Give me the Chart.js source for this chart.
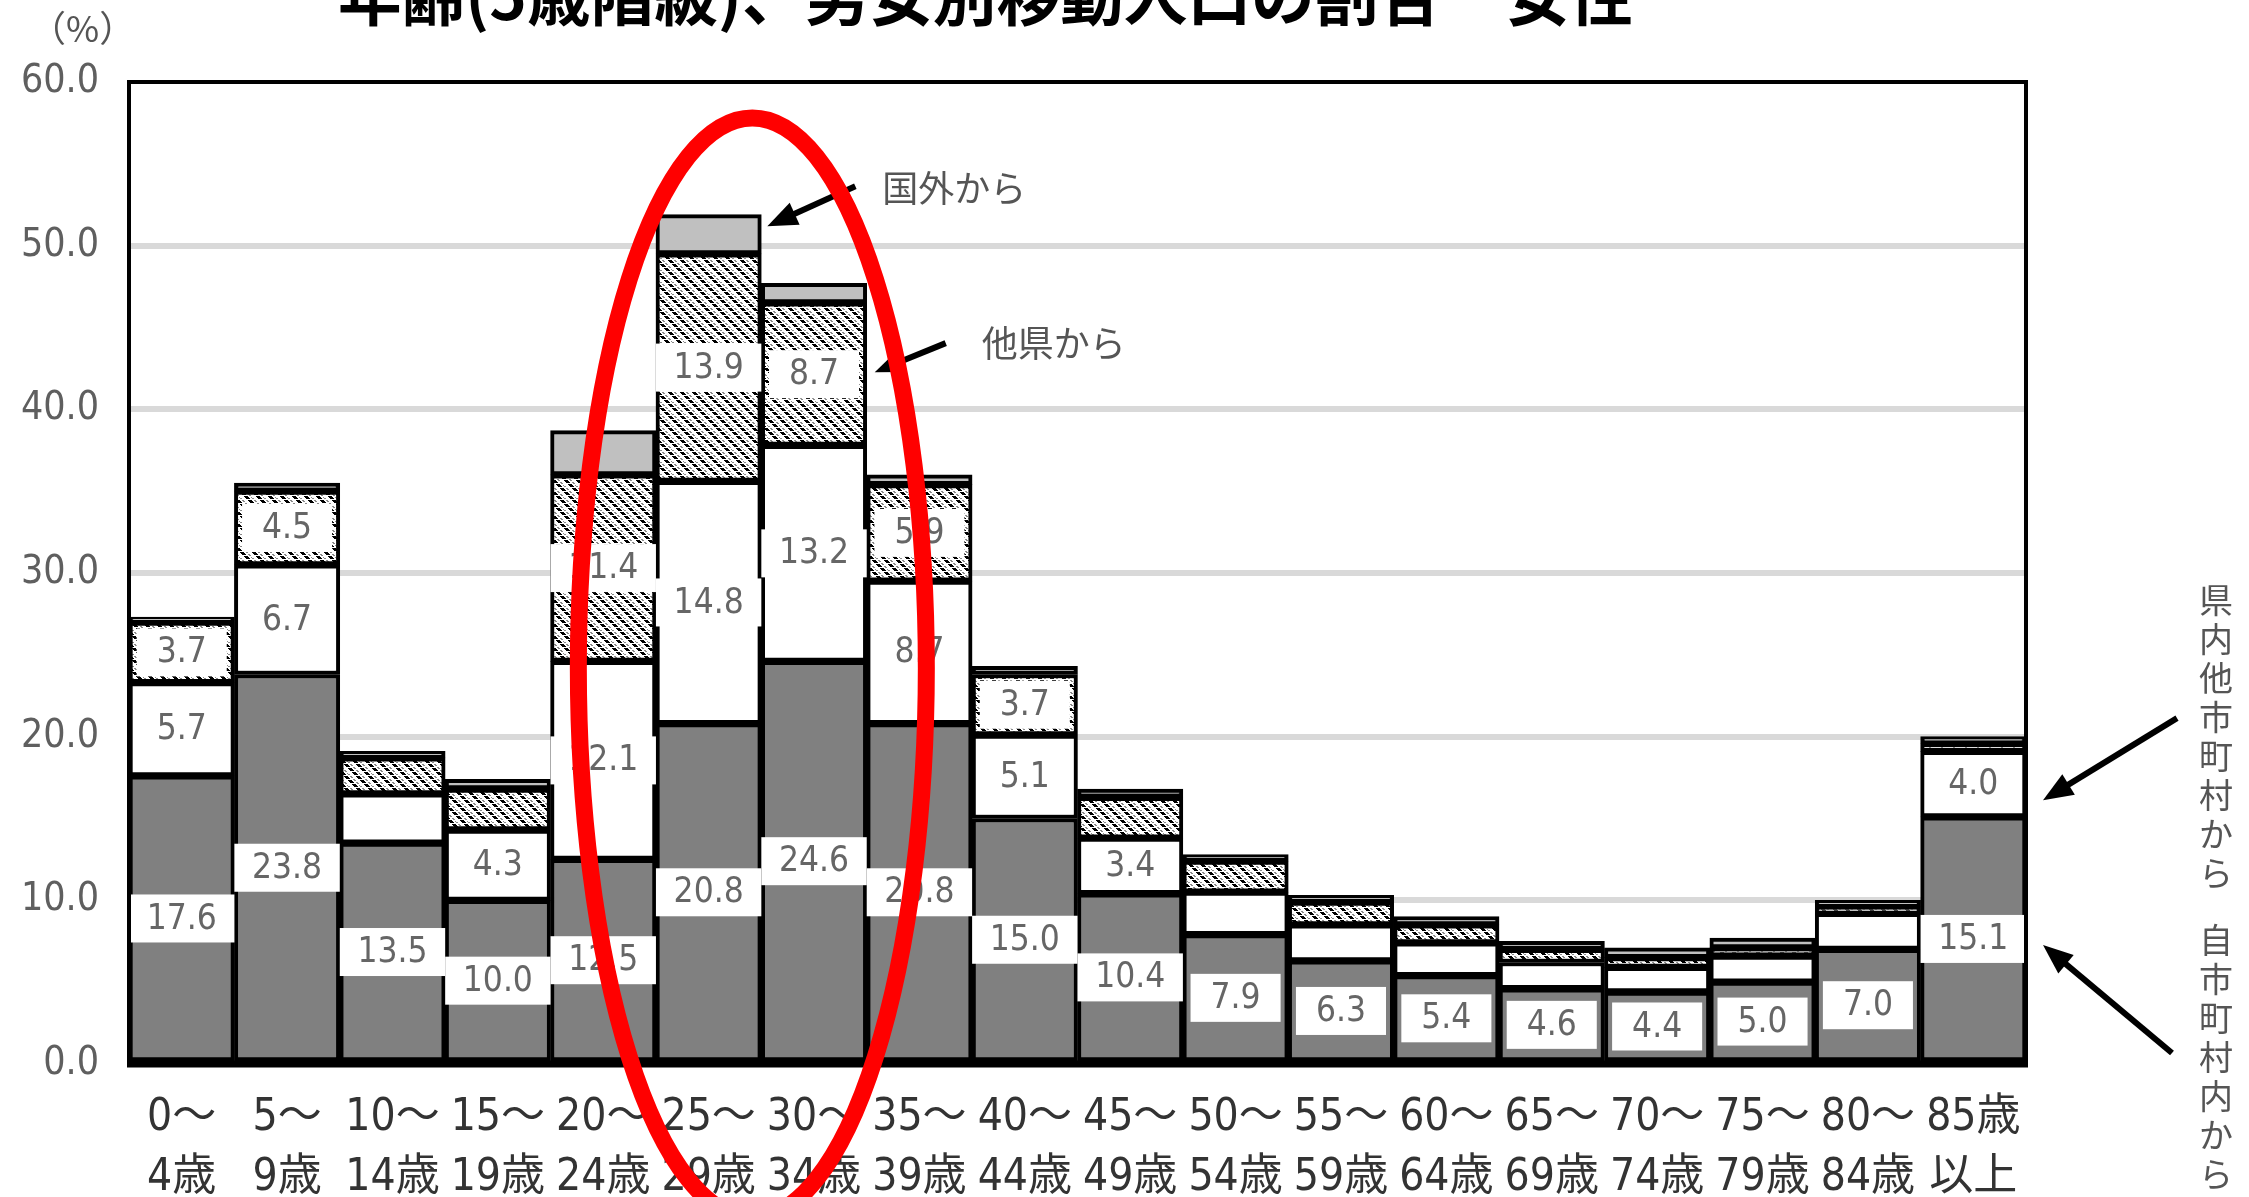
<!DOCTYPE html>
<html>
<head>
<meta charset="utf-8">
<title>年齢(5歳階級)、男女別移動人口の割合 女性</title>
<script src="https://cdn.jsdelivr.net/npm/chart.js@4.4.1/dist/chart.umd.min.js"></script>
<style>
    html, body { margin: 0; padding: 0; background: #fff; overflow: hidden; }
    #wrap { width: 2249px; height: 1197px; position: relative; }
</style>
</head>
<body>
<div id="wrap"><canvas id="myChart" width="2249" height="1197"></canvas></div>
<script>
// tranches d'âge (2 lignes par étiquette)
const ageLabels = [
    ['0～', '4歳'], ['5～', '9歳'], ['10～', '14歳'], ['15～', '19歳'], ['20～', '24歳'],
    ['25～', '29歳'], ['30～', '34歳'], ['35～', '39歳'], ['40～', '44歳'], ['45～', '49歳'],
    ['50～', '54歳'], ['55～', '59歳'], ['60～', '64歳'], ['65～', '69歳'], ['70～', '74歳'],
    ['75～', '79歳'], ['80～', '84歳'], ['85歳', '以上']
];
// séries (%)
const fromOwnCity   = [17.6, 23.8, 13.5, 10.0, 12.5, 20.8, 24.6, 20.8, 15.0, 10.4, 7.9, 6.3, 5.4, 4.6, 4.4, 5.0, 7.0, 15.1];
const fromOtherCity = [5.7, 6.7, 3.0, 4.3, 12.1, 14.8, 13.2, 8.7, 5.1, 3.4, 2.6, 2.2, 2.0, 1.6, 1.5, 1.6, 2.2, 4.0];
const fromOtherPref = [3.7, 4.5, 2.2, 2.5, 11.4, 13.9, 8.7, 5.9, 3.7, 2.5, 1.9, 1.4, 1.1, 0.8, 0.6, 0.5, 0.4, 0.5];
const fromAbroad    = [0.3, 0.5, 0.4, 0.6, 2.7, 2.4, 1.2, 0.6, 0.5, 0.5, 0.4, 0.4, 0.5, 0.5, 0.6, 0.6, 0.4, 0.4];
const yTicks = [0, 10, 20, 30, 40, 50, 60];

const titleText = '年齢(5歳階級)、男女別移動人口の割合　女性';
const NARROW = "'Liberation Sans Narrow', 'DejaVu Sans Condensed', 'Noto Sans CJK JP', sans-serif";
const CJK = "'Noto Sans CJK JP', sans-serif";

// motif hachuré pour "他県から"
function makeHatch() {
    const n = 12;
    const c = document.createElement('canvas');
    c.width = n; c.height = n;
    const g = c.getContext('2d');
    g.fillStyle = '#fff';
    g.fillRect(0, 0, n, n);
    g.fillStyle = '#000';
    for (let k = 0; k < n; k++) {
        if (k % 4 === 3) continue;
        g.fillRect(k, k, 4, 1);
        if (k + 4 > n) g.fillRect(k - n, k, 4, 1);
    }
    g.fillStyle = '#8a8a8a';
    for (let k = 0; k < n; k++) {
        if (k % 3 === 1) continue;
        g.fillRect((k + 6) % n, k, 2, 1);
    }
    return g.createPattern(c, 'repeat');
}

function drawArrow(ctx, x1, y1, x2, y2) {
    const a = Math.atan2(y2 - y1, x2 - x1);
    const hl = 30, hw = 12;
    const c = Math.cos(a), s = Math.sin(a);
    ctx.save();
    ctx.strokeStyle = '#000';
    ctx.fillStyle = '#000';
    ctx.lineWidth = 6;
    ctx.beginPath();
    ctx.moveTo(x1, y1);
    ctx.lineTo(x2 - c * hl * 0.8, y2 - s * hl * 0.8);
    ctx.stroke();
    ctx.beginPath();
    ctx.moveTo(x2, y2);
    ctx.lineTo(x2 - hl * c + hw * s, y2 - hl * s - hw * c);
    ctx.lineTo(x2 - hl * c - hw * s, y2 - hl * s + hw * c);
    ctx.closePath();
    ctx.fill();
    ctx.restore();
}

function verticalText(ctx, text, x, y0, step) {
    for (let i = 0; i < text.length; i++) {
        ctx.fillText(text[i], x, y0 + i * step);
    }
}

// cadre, étiquettes de valeurs, annotations
const decorPlugin = {
    id: 'decor',
    afterDatasetsDraw(chart) {
        const ctx = chart.ctx;
        const area = chart.chartArea;
        ctx.save();
        // étiquettes dans les segments
        ctx.font = '35px ' + NARROW;
        ctx.textAlign = 'center';
        ctx.textBaseline = 'middle';
        chart.data.datasets.forEach((ds, di) => {
            if (di === 3) return;
            chart.getDatasetMeta(di).data.forEach((bar, i) => {
                const v = ds.data[i];
                if (v < 3.2) return;
                const txt = v.toFixed(1);
                const cy = (bar.y + bar.base) / 2;
                const tw = ctx.measureText(txt).width;
                const bw = Math.min(bar.width, tw + 40);
                ctx.fillStyle = '#fff';
                ctx.fillRect(bar.x - bw / 2, cy - 24, bw, 48);
                ctx.fillStyle = '#666';
                ctx.fillText(txt, bar.x, cy + 1);
            });
        });
        // cadre
        ctx.strokeStyle = '#000';
        ctx.lineWidth = 4;
        ctx.strokeRect(area.left, area.top, area.right - area.left, area.bottom - area.top);
        ctx.lineWidth = 7;
        ctx.beginPath();
        ctx.moveTo(area.left - 2, area.bottom);
        ctx.lineTo(area.right + 2, area.bottom);
        ctx.stroke();
        ctx.restore();
    },
    afterDraw(chart) {
        const ctx = chart.ctx;
        const pref = chart.getDatasetMeta(2).data;
        const abr = chart.getDatasetMeta(3).data;
        const other = chart.getDatasetMeta(1).data;
        const own = chart.getDatasetMeta(0).data;
        ctx.save();

        // titre (coupé en haut)
        ctx.font = 'bold 64px ' + CJK;
        ctx.fillStyle = '#000';
        ctx.textAlign = 'left';
        ctx.textBaseline = 'alphabetic';
        ctx.fillText(titleText, 338, 20, 1295);

        // (%)
        ctx.font = '36px ' + CJK;
        ctx.fillStyle = '#555';
        ctx.textBaseline = 'middle';
        ctx.fillText('（%）', 30, 28);

        // 国外から
        const b1 = abr[5];
        const h1x = b1.x + b1.width / 2 + 6, h1y = (b1.y + b1.base) / 2 - 8;
        drawArrow(ctx, h1x + 88, h1y - 40, h1x, h1y);
        ctx.fillStyle = '#555';
        ctx.font = '36px ' + CJK;
        ctx.fillText('国外から', h1x + 115, h1y - 38);

        // 他県から
        const b2 = pref[6];
        const h2x = b2.x + b2.width / 2 + 8, h2y = (b2.y + b2.base) / 2 - 2;
        drawArrow(ctx, h2x + 71, h2y - 29, h2x, h2y);
        ctx.fillStyle = '#555';
        ctx.fillText('他県から', h2x + 107, h2y - 29);

        // flèches et textes verticaux à droite
        const b3 = other[17];
        const h3x = b3.x + b3.width / 2 + 17, h3y = (b3.y + b3.base) / 2 + 16;
        drawArrow(ctx, h3x + 134, h3y - 82, h3x, h3y);
        const b4 = own[17];
        const h4x = b4.x + b4.width / 2 + 17, h4y = (b4.y + b4.base) / 2 + 6;
        drawArrow(ctx, h4x + 129, h4y + 108, h4x, h4y);
        ctx.fillStyle = '#555';
        ctx.font = '34px ' + CJK;
        ctx.textAlign = 'center';
        verticalText(ctx, '県内他市町村から', 2216, 600, 39);
        verticalText(ctx, '自市町村内から', 2216, 940, 39);

        // ellipse rouge
        const cx = (own[5].x + own[6].x) / 2 - 9;
        const cy = chart.scales.y.getPixelForValue(24.2);
        ctx.strokeStyle = '#ff0000';
        ctx.lineWidth = 17;
        ctx.beginPath();
        ctx.ellipse(cx, cy, 174, 550, 0, 0, Math.PI * 2);
        ctx.stroke();
        ctx.restore();
    }
};

const ctx = document.getElementById('myChart').getContext('2d');
const hatch = makeHatch();
const common = {
    borderColor: '#000',
    borderWidth: 4,
    borderSkipped: false,
    barPercentage: 1.0,
    categoryPercentage: 1.0
};

new Chart(ctx, {
    type: 'bar',
    data: {
        labels: ageLabels,
        datasets: [
            Object.assign({ label: '自市町村内から', data: fromOwnCity, backgroundColor: '#808080' }, common),
            Object.assign({ label: '県内他市町村から', data: fromOtherCity, backgroundColor: '#ffffff' }, common),
            Object.assign({ label: '他県から', data: fromOtherPref, backgroundColor: hatch }, common),
            Object.assign({ label: '国外から', data: fromAbroad, backgroundColor: '#c0c0c0' }, common)
        ]
    },
    options: {
        responsive: false,
        animation: false,
        devicePixelRatio: 1,
        layout: { padding: { left: 0, top: 82, right: 223, bottom: 0 } },
        plugins: {
            legend: { display: false },
            tooltip: { enabled: false },
            title: { display: false }
        },
        scales: {
            x: {
                stacked: true,
                grid: { display: false, drawTicks: false },
                border: { display: false },
                ticks: {
                    autoSkip: false,
                    maxRotation: 0,
                    minRotation: 0,
                    padding: 25,
                    color: '#333',
                    font: { family: NARROW, size: 44, lineHeight: 1.36 }
                },
                afterFit(scale) { scale.height = 133; }
            },
            y: {
                stacked: true,
                min: 0,
                max: 60,
                afterBuildTicks(scale) { scale.ticks = yTicks.map(v => ({ value: v })); },
                grid: {
                    drawTicks: false,
                    lineWidth: 6,
                    color: c => (c.tick && (c.tick.value === 0 || c.tick.value === 60)) ? 'rgba(0,0,0,0)' : '#d9d9d9'
                },
                border: { display: false },
                ticks: {
                    padding: 30,
                    color: '#5f5f5f',
                    font: { family: NARROW, size: 39 },
                    callback: v => Number(v).toFixed(1)
                },
                afterFit(scale) { scale.width = 129; }
            }
        }
    },
    plugins: [decorPlugin]
});
</script>
</body>
</html>
